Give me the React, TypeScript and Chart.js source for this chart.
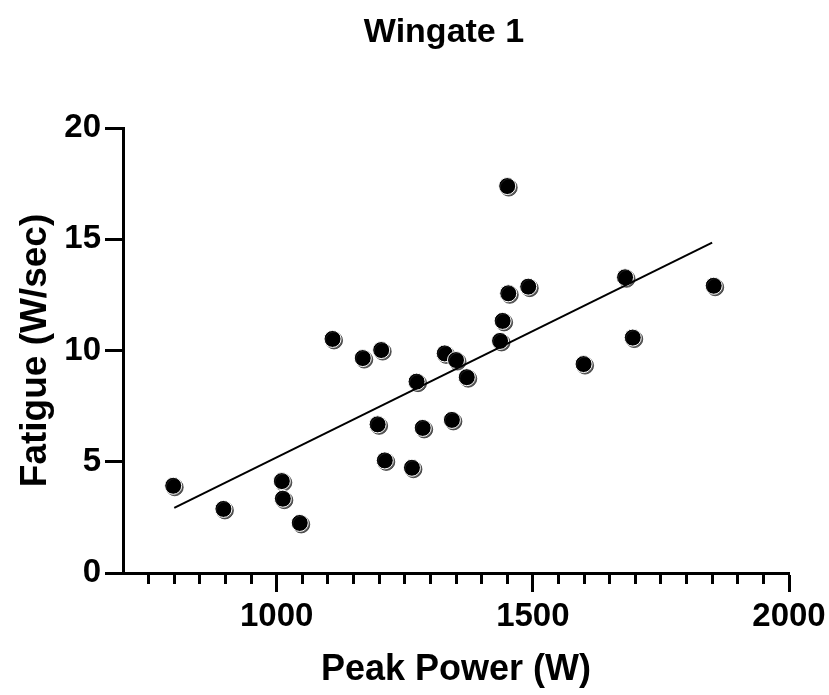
import React, { useEffect, useRef } from 'react';
import { Chart, registerables } from 'chart.js';

Chart.register(...registerables);

// ---- data ----
const peakPower = [798, 896, 1010, 1012, 1045, 1109, 1168, 1197, 1204, 1211, 1264, 1273, 1285, 1328, 1342, 1350, 1371, 1436, 1441, 1450, 1452, 1491, 1599, 1680, 1695, 1853];
const fatigue = [3.92, 2.88, 4.13, 3.34, 2.25, 10.52, 9.66, 6.68, 10.02, 5.06, 4.73, 8.6, 6.52, 9.87, 6.88, 9.57, 8.8, 10.43, 11.33, 17.39, 12.57, 12.87, 9.39, 13.29, 10.58, 12.91];
const fitX = [800, 1850];
const fitY = [2.93, 14.85];
const xMajorTicks = [1000, 1500, 2000];
const yTickStep = 5;
const xMinorStep = 50;
const chartTitle = 'Wingate 1';
const xTitle = 'Peak Power (W)';
const yTitle = 'Fatigue (W/sec)';

const FONT = "'Liberation Sans', Arial, Helvetica, sans-serif";

const shadowPlugin = {
  id: 'pointShadow',
  beforeDatasetDraw(chart: any, args: any) {
    if (args.index !== 0) return;
    const ctx = chart.ctx;
    ctx.save();
    ctx.shadowColor = 'rgba(40,40,40,0.75)';
    ctx.shadowOffsetX = 1.5;
    ctx.shadowOffsetY = 1.5;
    ctx.shadowBlur = 0;
  },
  afterDatasetDraw(chart: any, args: any) {
    if (args.index !== 0) return;
    chart.ctx.restore();
  },
};

export default function App() {
  const ref = useRef<HTMLCanvasElement | null>(null);

  useEffect(() => {
    if (!ref.current) return;
    const f = (size: number) => ({ family: FONT, size, weight: 'bold' as const, lineHeight: 1 });
    const isMajor = (v: number) => xMajorTicks.includes(Math.round(v));
    const chart = new Chart(ref.current, {
      type: 'scatter',
      data: {
        datasets: [
          {
            type: 'scatter',
            data: peakPower.map((x, i) => ({ x, y: fatigue[i] })),
            backgroundColor: '#000',
            borderColor: '#fff',
            borderWidth: 1,
            pointRadius: 8.5,
            order: 1,
          },
          {
            type: 'line',
            data: fitX.map((x, i) => ({ x, y: fitY[i] })),
            borderColor: '#000',
            borderWidth: 2,
            pointRadius: 0,
            fill: false,
            order: 0,
          } as any,
        ],
      },
      options: {
        responsive: false,
        animation: false,
        layout: { padding: { left: 0, right: -59, top: 0, bottom: 0 } },
        plugins: {
          legend: { display: false },
          tooltip: { enabled: false },
          title: {
            display: true,
            text: chartTitle,
            color: '#000',
            font: f(34),
            padding: { top: 16, bottom: 78 },
          },
        },
        scales: {
          x: {
            type: 'linear',
            min: 700,
            max: 2000,
            afterFit: (s: any) => { s.height = 122; s.paddingRight = 0; s.paddingLeft = 0; },
            ticks: {
              stepSize: xMinorStep,
              autoSkip: false,
              maxRotation: 0,
              padding: 8,
              color: '#000',
              font: f(33),
              callback: (v: any) => (isMajor(Number(v)) ? String(Math.round(Number(v))) : ''),
            },
            grid: {
              drawOnChartArea: false,
              drawTicks: true,
              tickLength: 19,
              tickWidth: 3,
              tickColor: (c: any) => (c.tick && Math.round(c.tick.value) === 700 ? 'rgba(0,0,0,0)' : '#000'),
              tickBorderDash: (c: any) => (c.tick && isMajor(c.tick.value) ? [] : [9, 100]),
            } as any,
            border: { display: true, width: 3, color: '#000' },
            title: { display: true, text: xTitle, color: '#000', font: f(36), padding: { top: 0, bottom: 7 } },
          },
          y: {
            type: 'linear',
            position: 'left',
            min: 0,
            max: 20,
            afterFit: (s: any) => { s.width = 123; },
            ticks: { stepSize: yTickStep, padding: 4, color: '#000', font: f(33) },
            grid: { drawOnChartArea: false, drawTicks: true, tickLength: 18, tickWidth: 3, tickColor: '#000', color: '#000', lineWidth: 3 },
            border: { display: true, width: 3, color: '#000' },
            title: { display: true, text: yTitle, color: '#000', font: f(37), padding: { top: 17.5, bottom: 0 } },
          },
          ySpacer: {
            type: 'linear',
            position: 'right',
            display: true,
            min: 0,
            max: 20,
            afterFit: (s: any) => { s.width = 99; },
            ticks: { display: false },
            grid: { display: false, drawTicks: false },
            border: { display: false },
            title: { display: false },
          },
        },
      },
      plugins: [shadowPlugin],
    } as any);
    return () => chart.destroy();
  }, []);

  return (
    <div style={{ position: 'absolute', left: 0, top: 0, width: 829, height: 695 }}>
      <canvas ref={ref} width={829} height={695} style={{ display: 'block' }} />
    </div>
  );
}
